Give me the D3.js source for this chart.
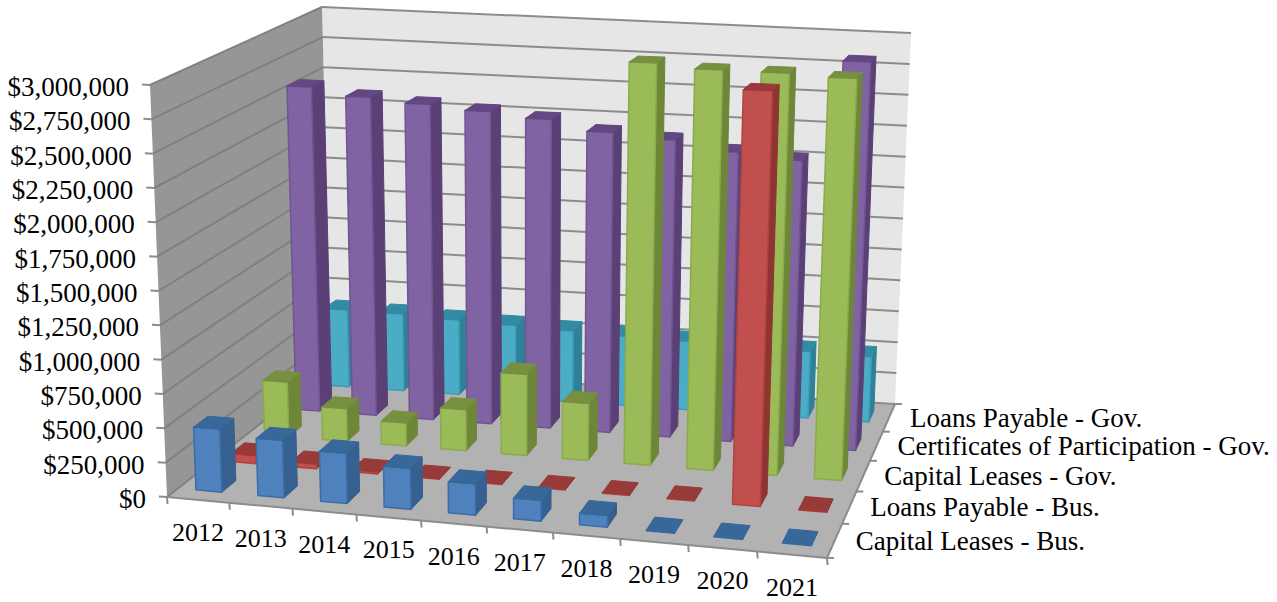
<!DOCTYPE html>
<html><head><meta charset="utf-8">
<script src="https://d3js.org/d3.v7.min.js"></script>
<style>html,body{margin:0;padding:0;background:#fff}svg{display:block}text{font-family:"Liberation Serif",serif;fill:#000}</style>
</head><body><svg id="c" width="1277" height="602"></svg>
<script>
const years=["2012","2013","2014","2015","2016","2017","2018","2019","2020","2021"];
const seriesNames=["Capital Leases - Bus.","Loans Payable - Bus.","Capital Leases - Gov.","Certificates of Participation - Gov.","Loans Payable - Gov."];
const capLeasesBus=[460000,415000,360000,290000,220000,145000,80000,4000,4000,4000];
const loansBus=[60000,35000,15000,4000,4000,4000,4000,4000,2935000,4000];
const capLeasesGov=[420000,250000,175000,310000,610000,425000,2990000,2955000,2950000,2930000];
const certPartGov=[2570000,2510000,2475000,2440000,2400000,2320000,2285000,2215000,2175000,2945000];
const loansGov=[625000,620000,600000,585000,570000,555000,545000,530000,525000,515000];
const seriesValues=[capLeasesBus,loansBus,capLeasesGov,certPartGov,loansGov];
const yTicks=d3.range(0,3000001,250000);
const fronts=["#4F81BD","#C0504D","#9BBB59","#8064A2","#4BACC6"];
const sides=["#34608F","#8E3533","#6E8638","#5A4076","#2F8197"];
const tops=["#386799","#983A38","#76903F","#624682","#338BA3"];
const edges=["#3A6CA8","#B04340","#8BAA4C","#6F5491","#3B9DB8"];

const floor=[[167,497],[827,558],[895,404],[331,368]]; // FL FR BR BL
const ceil=[[150,85],[844,105],[911,33],[322,7]];
const warp=r=>x=>x/(x+(1-x)*r);
const wu=warp(1.065),wv=warp(0.877);
const bil=(q,a,b)=>[0,1].map(k=>(1-a)*(1-b)*q[0][k]+a*(1-b)*q[1][k]+a*b*q[2][k]+(1-a)*b*q[3][k]);
const val=d3.scaleLinear().domain([0,3000000]).range([0,1]);
const P=(u,v,t)=>{const a=bil(floor,wu(u),wv(v)),b=bil(ceil,wu(u),wv(v));return [a[0]+(b[0]-a[0])*t,a[1]+(b[1]-a[1])*t];};
const uS=d3.scaleBand().domain(years).range([0,1]).paddingInner(.58).paddingOuter(.29);
const vS=d3.scaleBand().domain(seriesNames).range([0,1]).paddingInner(.6).paddingOuter(.3);
const uT=d3.scaleBand().domain(years).range([0,1]);
const vT=d3.scaleBand().domain(seriesNames).range([0,1]);
const line=d3.line();
const poly=pts=>line(pts)+"Z";
const svg=d3.select("#c");
svg.append("defs").append("filter").attr("id","soft").attr("x","-5%").attr("y","-5%").attr("width","110%").attr("height","110%")
  .append("feGaussianBlur").attr("stdDeviation",0.5);
const plot=svg.append("g").attr("filter","url(#soft)");

plot.append("path").attr("d",poly([P(0,1,0),P(1,1,0),P(1,1,1),P(0,1,1)])).attr("fill","#E6E6E6");
plot.append("path").attr("d",poly([P(0,0,0),P(0,1,0),P(0,1,1),P(0,0,1)])).attr("fill","#969696");
plot.append("path").attr("d",poly([P(0,0,0),P(1,0,0),P(1,1,0),P(0,1,0)])).attr("fill","#B2B2B2");
const grid=plot.append("g").attr("fill","none").attr("stroke-width",2);
yTicks.forEach(t=>{
  const h=val(t);
  grid.append("path").attr("d",line([P(0,1,h),P(1,1,h)])).attr("stroke","#8C8C8C");
  grid.append("path").attr("d",line([P(0,0,h),P(0,1,h)])).attr("stroke","#808080");
  grid.append("path").attr("d",line([P(0,0,h),[P(0,0,h)[0]-8,P(0,0,h)[1]-.5]])).attr("stroke","#8C8C8C");
});
const barData=[];
d3.range(seriesNames.length-1,-1,-1).forEach(s=>{
  years.forEach((y,i)=>barData.push({s,y,value:seriesValues[s][i]}));
});
const bars=plot.append("g").selectAll("g").data(barData).join("g").attr("stroke-linejoin","round");
bars.each(function(d){
  const g=d3.select(this);
  const u0=uS(d.y),u1=u0+uS.bandwidth(),v0=vS(seriesNames[d.s]),v1=v0+vS.bandwidth(),t=val(d.value);
  g.append("path").attr("d",poly([P(u1,v0,0),P(u1,v1,0),P(u1,v1,t),P(u1,v0,t)])).attr("fill",sides[d.s]).attr("stroke",sides[d.s]);
  g.append("path").attr("d",poly([P(u0,v0,0),P(u1,v0,0),P(u1,v0,t),P(u0,v0,t)])).attr("fill",fronts[d.s]).attr("stroke",edges[d.s]).attr("stroke-width",1.5);
  g.append("path").attr("d",poly([P(u0,v0,t),P(u1,v0,t),P(u1,v1,t),P(u0,v1,t)])).attr("fill",tops[d.s]).attr("stroke",tops[d.s]);
});
const ax=plot.append("g").attr("fill","none").attr("stroke","#8C8C8C").attr("stroke-width",2);
ax.append("path").attr("d",line([P(0,0,0),P(1,0,0)]));
ax.append("path").attr("d",line([P(1,0,0),P(1,1,0)]));
d3.range(0,11).forEach(i=>{const p=P(i/10,0,0);ax.append("path").attr("d",line([p,[p[0]+.5,p[1]+7]]));});
d3.range(0,6).forEach(i=>{const p=P(1,i/5,0);ax.append("path").attr("d",line([p,[p[0]+7,p[1]]]));});

const fmt=d=>"$"+d3.format(",")(d);
svg.append("g").attr("font-size",27).attr("text-anchor","end").selectAll("text").data(yTicks).join("text")
  .attr("x",d=>P(0,0,val(d))[0]-21).attr("y",d=>P(0,0,val(d))[1]+11).text(fmt);
svg.append("g").attr("font-size",26).attr("text-anchor","middle").selectAll("text").data(years).join("text")
  .attr("x",d=>P(uT(d)+uT.bandwidth()/2,0,0)[0]).attr("y",d=>P(uT(d)+uT.bandwidth()/2,0,0)[1]+41).text(d=>d);
svg.append("g").attr("font-size",27).selectAll("text").data(seriesNames).join("text")
  .attr("x",d=>P(1,vT(d)+vT.bandwidth()/2,0)[0]+21).attr("y",d=>P(1,vT(d)+vT.bandwidth()/2,0)[1]+9).text(d=>d);
</script></body></html>
